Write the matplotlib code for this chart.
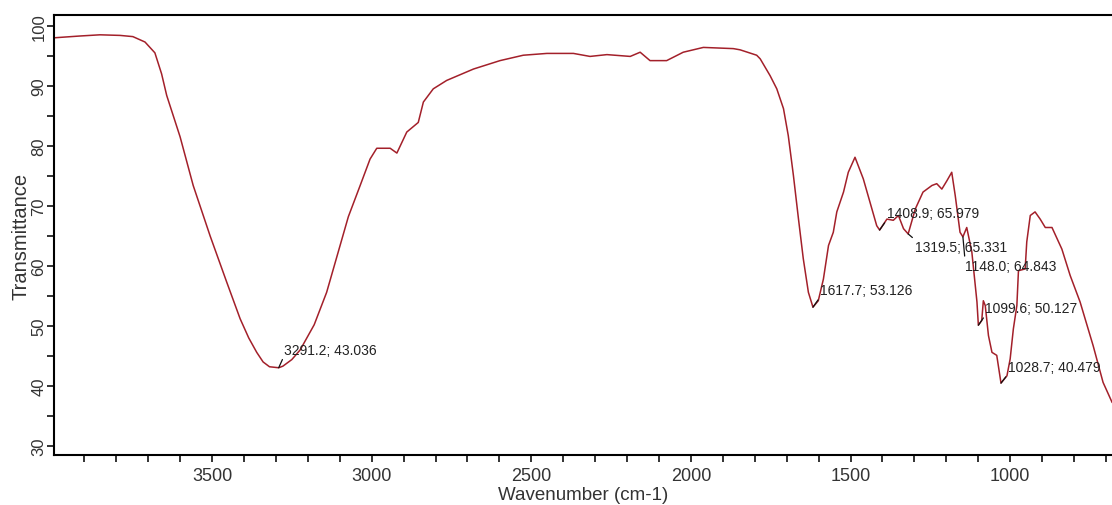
import matplotlib
matplotlib.use('Agg')
import matplotlib.pyplot as plt
from matplotlib.ticker import MultipleLocator

plt.rcParams['font.family'] = ['Liberation Sans', 'DejaVu Sans']

# spectrum
wavenumber = [3995, 3914, 3851, 3788, 3748, 3710, 3679, 3658, 3642, 3600,
              3559, 3506, 3454, 3412, 3385, 3360, 3340, 3320, 3291.2, 3278,
              3250, 3224, 3180, 3141, 3073, 3036, 3005, 2984, 2942, 2921,
              2890, 2854, 2838, 2807, 2765, 2681, 2598, 2525, 2451, 2368,
              2316, 2263, 2190, 2159, 2128, 2076, 2024, 1961, 1867, 1846,
              1794, 1783, 1752, 1731, 1710, 1695, 1679, 1663, 1648, 1632,
              1617.7, 1601, 1585, 1569, 1554, 1543, 1522, 1507, 1486, 1460,
              1439, 1418, 1408.9, 1386, 1366, 1350, 1334, 1319.5, 1297, 1273,
              1245, 1230, 1214, 1198, 1183, 1172, 1157, 1148.0, 1136, 1120,
              1104, 1099.6, 1089, 1084, 1078, 1068, 1057, 1042, 1028.7, 1010,
              1000, 990, 979, 974, 953, 948, 937, 922, 906, 890,
              869, 838, 812, 781, 740, 709, 681]
transmittance = [98.0, 98.3, 98.5, 98.4, 98.2, 97.3, 95.5, 92.0, 88.4, 81.5,
                 73.4, 65.0, 57.3, 51.2, 48.0, 45.6, 44.0, 43.2, 43.036, 43.3,
                 44.4, 46.0, 50.2, 55.6, 68.2, 73.4, 77.8, 79.6, 79.6, 78.8,
                 82.3, 83.9, 87.3, 89.5, 90.9, 92.8, 94.2, 95.1, 95.4, 95.4,
                 94.9, 95.2, 94.9, 95.6, 94.2, 94.2, 95.6, 96.4, 96.2, 96.0,
                 95.1, 94.5, 91.7, 89.5, 86.2, 81.7, 75.1, 67.8, 61.2, 55.6,
                 53.126, 54.2, 57.8, 63.4, 65.6, 69.0, 72.3, 75.6, 78.1, 74.5,
                 70.6, 66.7, 65.979, 67.8, 67.6, 68.4, 66.2, 65.331, 69.5, 72.3,
                 73.4, 73.7, 72.8, 74.2, 75.6, 71.7, 65.6, 64.843, 66.4, 62.3,
                 54.0, 50.127, 50.9, 54.2, 53.4, 48.4, 45.6, 45.1, 40.479, 41.7,
                 44.5, 49.5, 53.4, 59.2, 59.5, 64.0, 68.4, 69.0, 67.8, 66.4,
                 66.4, 62.8, 58.4, 54.0, 46.7, 40.6, 37.3]

peak_wn = [3291.2, 1617.7, 1408.9, 1319.5, 1148.0, 1099.6, 1028.7]
peak_t = [43.036, 53.126, 65.979, 65.331, 64.843, 50.127, 40.479]
# where each label sits relative to its peak, in pixels
label_offsets = [(5, 18), (7, 17), (7, 17), (7, -13), (2, -29), (7, 17), (7, 16)]

fig = plt.figure(figsize=(11.12, 5.06), dpi=100)
ax = fig.add_axes([54 / 1112, 50 / 506, 1058 / 1112, 440 / 506])

ax.plot(wavenumber, transmittance, color='#a3202a', linewidth=1.1)

for wn, t, (dx, dy) in zip(peak_wn, peak_t, label_offsets):
    rel = (0, 0) if dy > 0 else (0, 1)
    ax.annotate('%.1f; %.3f' % (wn, t), xy=(wn, t), xytext=(dx, dy),
                textcoords='offset pixels', fontsize=10, color='#222222',
                ha='left', va='center',
                arrowprops=dict(arrowstyle='-', color='#111111', lw=0.9,
                                shrinkA=0, shrinkB=0, relpos=rel))

ax.set_xlim(3995, 681)
ax.set_ylim(28.5, 101.8)
ax.xaxis.set_major_locator(MultipleLocator(500))
ax.xaxis.set_minor_locator(MultipleLocator(100))
ax.yaxis.set_major_locator(MultipleLocator(10))
ax.yaxis.set_minor_locator(MultipleLocator(5))

ax.tick_params(which='both', direction='out', length=5, width=1.2,
               colors='#111111')
ax.tick_params(axis='x', labelsize=13, pad=4, labelcolor='#333333')
ax.tick_params(axis='y', labelsize=12, pad=0.5, labelrotation=90,
               labelcolor='#333333')
for lab in ax.get_yticklabels():
    lab.set_va('center')

ax.spines['right'].set_visible(False)
for s in ['left', 'top', 'bottom']:
    ax.spines[s].set_linewidth(1.5)

ax.set_xlabel('Wavenumber (cm-1)', fontsize=13.5, color='#333333', labelpad=1)
ax.set_ylabel('Transmittance', fontsize=14.5, color='#333333')
ax.yaxis.set_label_coords(-0.022, 0.5)

plt.savefig('out.png', dpi=100)
